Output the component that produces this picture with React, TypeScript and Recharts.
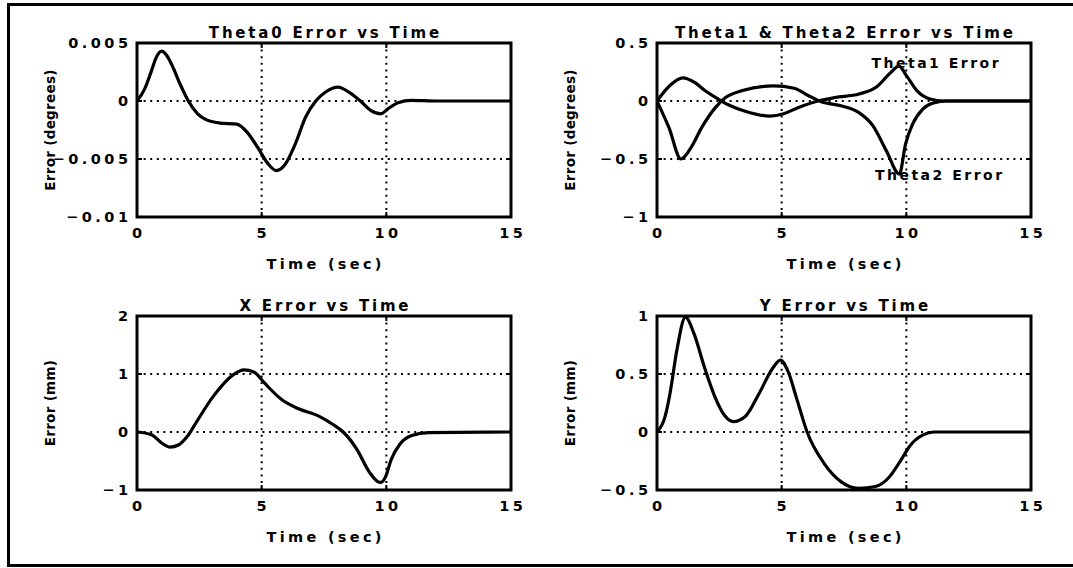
import React from "react";
import {
  LineChart,
  Line,
  XAxis,
  YAxis,
  CartesianGrid,
  ReferenceArea,
  ReferenceDot,
  Label,
} from "recharts";

const FONT = "'DejaVu Sans', 'Liberation Sans', sans-serif";

// Theta0 joint error (degrees)
const theta0Time = [0, 0.3, 0.58, 0.78, 0.99, 1.2, 1.4, 1.74, 2.06, 2.43, 2.77, 3.32, 4.0, 4.42, 4.84, 5.25, 5.59, 5.93, 6.35, 6.76, 7.17, 7.58, 8.06, 8.54, 8.96, 9.37, 9.78, 10.05, 10.47, 11.0, 12, 15];
const theta0Error = [0, 0.001, 0.0026, 0.0038, 0.0043, 0.0039, 0.0031, 0.0014, 0, -0.0011, -0.0016, -0.0019, -0.002, -0.0027, -0.004, -0.0054, -0.006, -0.0055, -0.0037, -0.0014, 0, 0.0008, 0.0012, 0.0007, 0, -0.0008, -0.0011, -0.0007, -0.00015, 0.00005, 0, 0];

// Theta1 / Theta2 joint errors (degrees)
const theta1Time = [0, 0.55, 1.03, 1.51, 1.92, 2.47, 2.88, 3.57, 4.53, 5.08, 5.63, 6.46, 7.14, 8.1, 8.8, 9.35, 9.7, 10.03, 10.44, 10.99, 11.5, 15];
const theta1Error = [0, 0.14, 0.2, 0.16, 0.09, 0.015, -0.034, -0.09, -0.13, -0.11, -0.06, 0, 0.03, 0.06, 0.12, 0.24, 0.3, 0.21, 0.085, 0.015, 0, 0];
const theta2Time = [0, 0.48, 0.96, 1.37, 1.79, 2.34, 2.75, 3.43, 4.67, 5.5, 6.04, 6.59, 7.42, 8.1, 8.65, 9.2, 9.72, 9.97, 10.25, 10.66, 11.13, 11.6, 15];
const theta2Error = [0, -0.23, -0.5, -0.4, -0.23, -0.057, 0.03, 0.09, 0.13, 0.11, 0.05, -0.006, -0.043, -0.1, -0.21, -0.43, -0.63, -0.37, -0.2, -0.07, -0.014, 0, 0];

// end effector position errors (mm)
const xErrTime = [0, 0.58, 0.99, 1.33, 1.68, 2.02, 2.36, 3.05, 3.87, 4.29, 4.7, 5.11, 5.8, 6.48, 7.31, 7.86, 8.27, 8.82, 9.3, 9.64, 9.78, 9.98, 10.19, 10.54, 11.02, 11.7, 15];
const xErr = [0, -0.046, -0.19, -0.26, -0.22, -0.075, 0.155, 0.61, 0.99, 1.07, 1.03, 0.845, 0.56, 0.4, 0.27, 0.13, 0, -0.3, -0.68, -0.85, -0.87, -0.76, -0.48, -0.21, -0.06, -0.01, 0];
const yErrTime = [0, 0.32, 0.52, 0.8, 1.14, 1.48, 1.9, 2.31, 2.72, 3.06, 3.54, 4.09, 4.64, 4.95, 5.26, 5.6, 6.02, 6.7, 7.39, 8.08, 8.76, 9.31, 9.79, 10.14, 10.69, 11.1, 15];
const yErr = [0, 0.13, 0.33, 0.71, 0.99, 0.85, 0.56, 0.31, 0.14, 0.09, 0.134, 0.33, 0.55, 0.62, 0.52, 0.29, 0, -0.27, -0.43, -0.486, -0.47, -0.39, -0.24, -0.12, -0.023, 0, 0];

const xTicks = [0, 5, 10, 15];
const theta0Ticks = [-0.01, -0.005, 0, 0.005];
const theta0TickLabels = ["\u22120.01", "\u22120.005", "0", "0.005"];
const theta12Ticks = [-1, -0.5, 0, 0.5];
const theta12TickLabels = ["\u22121", "\u22120.5", "0", "0.5"];
const xErrTicks = [-1, 0, 1, 2];
const xErrTickLabels = ["\u22121", "0", "1", "2"];
const yErrTicks = [-0.5, 0, 0.5, 1];
const yErrTickLabels = ["\u22120.5", "0", "0.5", "1"];

const PLOT_W = 374;
const PLOT_H = 174;
const AXIS_W = 130;
const TOP_M = 40;
const RIGHT_M = 30;
const AXIS_H = 70;
const TICK_LEN = 5;
const Y_LABEL_GAP = 82;

function textStyle(size: number, spacing: number): React.CSSProperties {
  return {
    fontFamily: FONT,
    fontWeight: 700,
    fontSize: size,
    letterSpacing: spacing,
    fill: "#000",
  };
}

const TICK_LS = 3.5;
const tickStyle = textStyle(14.5, TICK_LS);
const TITLE_LS = 2.8;
const titleStyle = textStyle(15, TITLE_LS);
const XLABEL_LS = 3.3;
const xLabelStyle = textStyle(14.5, XLABEL_LS);
const yLabelStyle = textStyle(13.5, 0.3);
const noteStyle = textStyle(14, 2.5);

type Series = { time: number[]; values: number[] };
type Note = { t: number; v: number; text: string };

type PanelProps = {
  left: number;
  top: number;
  title: string;
  yLabel: string;
  yTicks: number[];
  yTickLabels: string[];
  series: Series[];
  notes?: Note[];
};

const toPoints = (s: Series) => s.time.map((t, i) => ({ t, v: s.values[i] }));

function Panel({ left, top, title, yLabel, yTicks, yTickLabels, series, notes = [] }: PanelProps) {
  const yMin = yTicks[0];
  const yMax = yTicks[yTicks.length - 1];

  // ticks point inward on all four sides, like the old MATLAB axes
  const renderXTick = ({ x, y, payload }: any) => (
    <g>
      <line x1={x} x2={x} y1={y} y2={y - TICK_LEN} stroke="#000" strokeWidth={2} />
      <line x1={x} x2={x} y1={y - PLOT_H} y2={y - PLOT_H + TICK_LEN} stroke="#000" strokeWidth={2} />
      <text x={x + TICK_LS / 2} y={y + 21} textAnchor="middle" style={tickStyle}>
        {payload.value}
      </text>
    </g>
  );

  const renderYTick = ({ x, y, payload }: any) => (
    <g>
      <line x1={x} x2={x + TICK_LEN} y1={y} y2={y} stroke="#000" strokeWidth={2} />
      <line x1={x + PLOT_W} x2={x + PLOT_W - TICK_LEN} y1={y} y2={y} stroke="#000" strokeWidth={2} />
      <text x={x - 9 + TICK_LS} y={y + 5} textAnchor="end" style={tickStyle}>
        {yTickLabels[yTicks.indexOf(payload.value)]}
      </text>
    </g>
  );

  return (
    <div style={{ position: "absolute", left: left - AXIS_W, top: top - TOP_M }}>
      <LineChart
        width={AXIS_W + PLOT_W + RIGHT_M}
        height={TOP_M + PLOT_H + AXIS_H}
        margin={{ top: TOP_M, right: RIGHT_M, bottom: 0, left: 0 }}
      >
        <CartesianGrid stroke="#000" strokeWidth={2} strokeDasharray="2 4.6" />
        <XAxis
          dataKey="t"
          type="number"
          domain={[0, 15]}
          ticks={xTicks}
          interval={0}
          height={AXIS_H}
          axisLine={false}
          tickLine={false}
          tickSize={0}
          tickMargin={0}
          tick={renderXTick}
          allowDataOverflow
        >
          <Label
            content={(p: any) => {
              const vb = p.viewBox;
              return (
                <text x={vb.x + vb.width / 2 + XLABEL_LS / 2} y={vb.y + 52} textAnchor="middle" style={xLabelStyle}>
                  Time (sec)
                </text>
              );
            }}
          />
        </XAxis>
        <YAxis
          type="number"
          domain={[yMin, yMax]}
          ticks={yTicks}
          interval={0}
          width={AXIS_W}
          axisLine={false}
          tickLine={false}
          tickSize={0}
          tickMargin={0}
          tick={renderYTick}
          allowDataOverflow
        >
          <Label
            content={(p: any) => {
              const vb = p.viewBox;
              const cx = vb.x + vb.width - Y_LABEL_GAP;
              const cy = vb.y + vb.height / 2;
              return (
                <text x={cx} y={cy} transform={`rotate(-90 ${cx} ${cy})`} textAnchor="middle" style={yLabelStyle}>
                  {yLabel}
                </text>
              );
            }}
          />
        </YAxis>
        {series.map((s, i) => (
          <Line
            key={i}
            data={toPoints(s)}
            dataKey="v"
            type="monotone"
            stroke="#000"
            strokeWidth={3.2}
            dot={false}
            activeDot={false}
            isAnimationActive={false}
          />
        ))}
        <ReferenceArea
          x1={0}
          x2={15}
          y1={yMin}
          y2={yMax}
          fill="none"
          stroke="#000"
          strokeWidth={3}
          ifOverflow="visible"
          label={(p: any) => {
            const vb = p.viewBox;
            return (
              <text x={vb.x + vb.width / 2 + TITLE_LS / 2} y={vb.y - 5} textAnchor="middle" style={titleStyle}>
                {title}
              </text>
            );
          }}
        />
        {notes.map((n, i) => (
          <ReferenceDot
            key={i}
            x={n.t}
            y={n.v}
            r={0}
            fill="none"
            stroke="none"
            ifOverflow="visible"
            label={(p: any) => {
              const vb = p.viewBox;
              return (
                <text x={vb.x} y={vb.y + 5} textAnchor="start" style={noteStyle}>
                  {n.text}
                </text>
              );
            }}
          />
        ))}
      </LineChart>
    </div>
  );
}

export default function App() {
  return (
    <div style={{ position: "relative", width: 1073, height: 568, background: "#fff", overflow: "hidden" }}>
      <style>{"body{margin:0}"}</style>
      <div
        style={{
          position: "absolute",
          left: 7,
          top: 3,
          width: 1100,
          height: 564,
          border: "3px solid #000",
          boxSizing: "border-box",
        }}
      />
      <Panel
        left={137}
        top={43}
        title="Theta0 Error vs Time"
        yLabel="Error (degrees)"
        yTicks={theta0Ticks}
        yTickLabels={theta0TickLabels}
        series={[{ time: theta0Time, values: theta0Error }]}
      />
      <Panel
        left={657}
        top={43}
        title="Theta1 & Theta2 Error vs Time"
        yLabel="Error (degrees)"
        yTicks={theta12Ticks}
        yTickLabels={theta12TickLabels}
        series={[
          { time: theta1Time, values: theta1Error },
          { time: theta2Time, values: theta2Error },
        ]}
        notes={[
          { t: 8.6, v: 0.325, text: "Theta1 Error" },
          { t: 8.74, v: -0.638, text: "Theta2 Error" },
        ]}
      />
      <Panel
        left={137}
        top={316}
        title="X Error vs Time"
        yLabel="Error (mm)"
        yTicks={xErrTicks}
        yTickLabels={xErrTickLabels}
        series={[{ time: xErrTime, values: xErr }]}
      />
      <Panel
        left={657}
        top={316}
        title="Y Error vs Time"
        yLabel="Error (mm)"
        yTicks={yErrTicks}
        yTickLabels={yErrTickLabels}
        series={[{ time: yErrTime, values: yErr }]}
      />
    </div>
  );
}
